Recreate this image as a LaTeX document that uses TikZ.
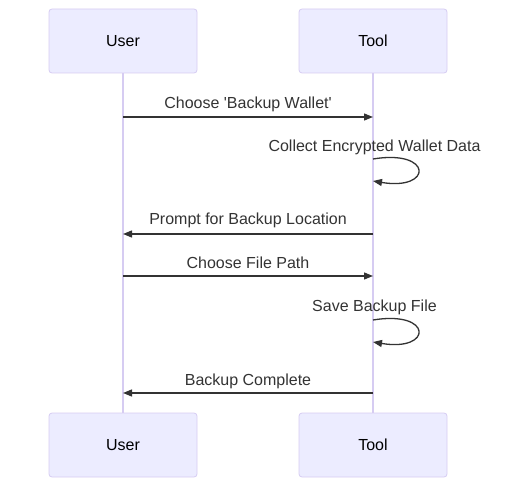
\documentclass[tikz,border=0pt]{standalone}
\usepackage{fontspec}
\setmainfont{Liberation Sans}
\newfontfamily\plainfont{Liberation Sans}
\usetikzlibrary{arrows.meta}
\definecolor{actbg}{HTML}{ECECFF}
\definecolor{actbd}{HTML}{D6CCF2}
\definecolor{ink}{HTML}{333333}
\begin{document}
\begin{tikzpicture}[x=1pt,y=-1pt,
  actor/.style={draw=actbd,fill=actbg,line width=0.8pt,rounded corners=3pt,minimum width=148pt,minimum height=64pt,inner sep=0pt,font=\plainfont\fontsize{16}{19}\selectfont,text=black},
  life/.style={draw=actbd,line width=1.2pt},
  msg/.style={draw=ink,line width=1.3pt,-{Triangle[length=9pt,width=7pt]}},
  lbl/.style={font=\plainfont\fontsize{16}{19}\selectfont,text=ink,inner sep=0pt}]
\useasboundingbox (0,0) rectangle (528,495);
% actors
\node[actor] (ut) at (123,41) {User};
\node[actor] (tt) at (373,41) {Tool};
\node[actor] (ub) at (123,445) {User};
\node[actor] (tb) at (373,445) {Tool};
% lifelines
\draw[life] (ut.south) -- (ub.north);
\draw[life] (tt.south) -- (tb.north);
% message points
\coordinate (u1) at (123,117); \coordinate (t1) at (373,117);
\coordinate (s1a) at (373,159); \coordinate (s1b) at (373,181);
\coordinate (u2) at (123,234); \coordinate (t2) at (373,234);
\coordinate (u3) at (123,276); \coordinate (t3) at (373,276);
\coordinate (s2a) at (373,320); \coordinate (s2b) at (373,342);
\coordinate (u4) at (123,393); \coordinate (t4) at (373,393);
% messages
\node[lbl] (l1) at (248,104) {Choose 'Backup Wallet'};
\draw[msg] (u1) -- (t1);
\node[lbl] (l2) at (374.5,147) {Collect Encrypted Wallet Data};
\draw[msg] (s1a) .. controls (433,149) and (433,191) .. (s1b);
\node[lbl] (l3) at (248,220) {Prompt for Backup Location};
\draw[msg] (t2) -- (u2);
\node[lbl] (l4) at (248,263) {Choose File Path};
\draw[msg] (u3) -- (t3);
\node[lbl] (l5) at (374.5,307) {Save Backup File};
\draw[msg] (s2a) .. controls (433,310) and (433,352) .. (s2b);
\node[lbl] (l6) at (248,381) {Backup Complete};
\draw[msg] (t4) -- (u4);
\end{tikzpicture}
\end{document}
